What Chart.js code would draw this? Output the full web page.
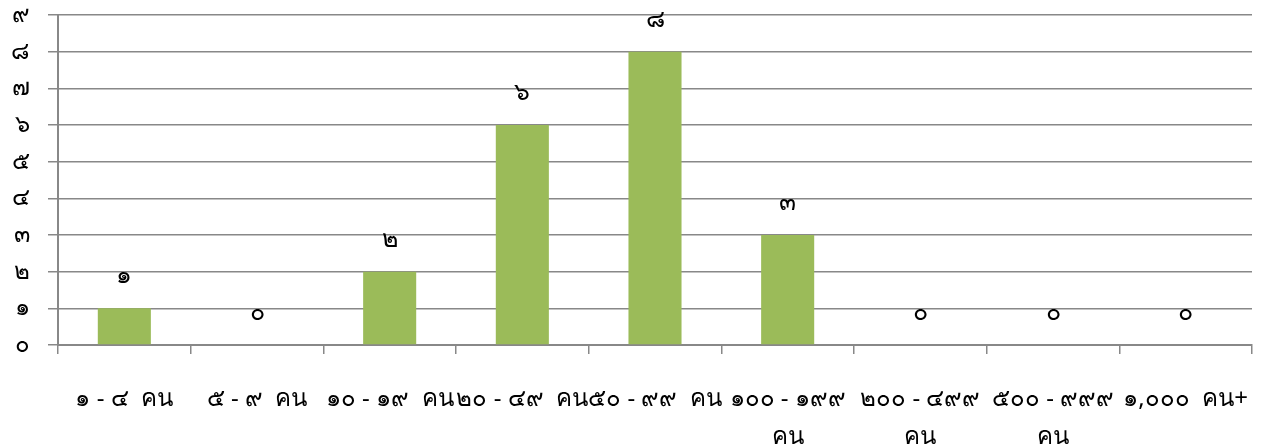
<!DOCTYPE html>
<html>
<head>
<meta charset="utf-8">
<script src="https://cdn.jsdelivr.net/npm/chart.js"></script>
<style>
  html, body { margin: 0; padding: 0; background: #ffffff; }
  #wrap { width: 1262px; height: 446px; }
</style>
</head>
<body>
<div id="wrap"><canvas id="c" width="1262" height="446"></canvas></div>
<script>
const categories = [
  "๑ - ๔  คน",
  "๕ - ๙  คน",
  "๑๐ - ๑๙  คน",
  "๒๐ - ๔๙  คน",
  "๕๐ - ๙๙  คน",
  ["๑๐๐ - ๑๙๙", "คน"],
  ["๒๐๐ - ๔๙๙", "คน"],
  ["๕๐๐ - ๙๙๙", "คน"],
  "๑,๐๐๐  คน+"
];
const counts = [1, 0, 2, 6, 8, 3, 0, 0, 0];
const thaiDigits = ["๐", "๑", "๒", "๓", "๔", "๕", "๖", "๗", "๘", "๙"];

function toThai(n) {
  return String(n).split("").map(ch => /[0-9]/.test(ch) ? thaiDigits[+ch] : ch).join("");
}

const FONT = "'Noto Sans', 'DejaVu Sans', sans-serif";

const labelPlugin = {
  id: "valueLabels",
  afterDatasetsDraw(chart) {
    const ctx = chart.ctx;
    const meta = chart.getDatasetMeta(0);
    ctx.save();
    ctx.fillStyle = "#000000";
    ctx.font = "25px " + FONT;
    ctx.textAlign = "center";
    ctx.textBaseline = "middle";
    meta.data.forEach((bar, i) => {
      ctx.fillText(toThai(counts[i]), bar.x, bar.y - 32);
    });
    ctx.restore();
  }
};

new Chart(document.getElementById("c"), {
  type: "bar",
  data: {
    labels: categories,
    datasets: [{
      data: counts,
      backgroundColor: "#9BBB59",
      borderWidth: 0,
      categoryPercentage: 1.0,
      barPercentage: 0.4
    }]
  },
  options: {
    responsive: false,
    animation: false,
    layout: { padding: { top: 15, right: 10, left: 0, bottom: 0 } },
    plugins: { legend: { display: false }, tooltip: { enabled: false } },
    scales: {
      x: {
        grid: {
          display: true,
          drawOnChartArea: false,
          drawTicks: true,
          tickLength: 9,
          color: "#888888",
          lineWidth: 1.5
        },
        border: { display: true, color: "#888888", width: 2 },
        ticks: {
          color: "#000000",
          font: { family: FONT, size: 24, lineHeight: 1.6 },
          padding: 26,
          maxRotation: 0,
          minRotation: 0,
          autoSkip: false
        },
        afterFit(scale) {
          scale.height = 101;
          scale.paddingLeft = 0;
          scale.paddingRight = 0;
        }
      },
      y: {
        min: 0,
        max: 9,
        grid: {
          color: "#888888",
          lineWidth: 1.5,
          drawTicks: true,
          tickLength: 10
        },
        border: { display: true, color: "#888888", width: 2 },
        ticks: {
          stepSize: 1,
          color: "#000000",
          font: { family: FONT, size: 24 },
          padding: 18,
          callback: (v) => thaiDigits[v]
        },
        afterFit(scale) {
          scale.width = 58;
          scale.paddingTop = 0;
          scale.paddingBottom = 0;
        }
      }
    }
  },
  plugins: [labelPlugin]
});
</script>
</body>
</html>
